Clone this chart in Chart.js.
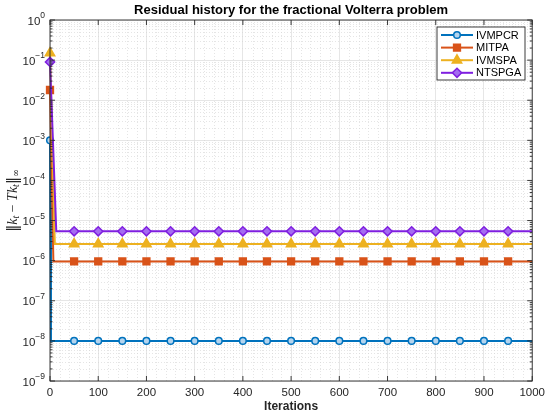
<!DOCTYPE html>
<html>
<head>
<meta charset="utf-8">
<script src="https://cdn.jsdelivr.net/npm/chart.js@4.4.1/dist/chart.umd.min.js"></script>
<style>
  html, body { margin: 0; padding: 0; background: #fff; }
  #wrap { width: 550px; height: 417px; }
</style>
</head>
<body>
<div id="wrap"><canvas id="residualChart"></canvas></div>
<script>
// Residual history for the fractional Volterra problem
const FONT = "'Liberation Sans', Arial, Helvetica, sans-serif";
const AXIS_COLOR = '#262626';

// marker iterations (0, 50, ..., 950) plus the end of the run
const iterations = [0, 50, 100, 150, 200, 250, 300, 350, 400, 450, 500,
                    550, 600, 650, 700, 750, 800, 850, 900, 950, 1000];

const seriesNames = ['IVMPCR', 'MITPA', 'IVMSPA', 'NTSPGA'];
const startValues = [1e-3, 1.8e-2, 1.5e-1, 9e-2];
const dropIters = [2, 7, 10, 13];

// residuals read at iterations 50..1000
const ivmpcrValues = [1e-8, 1e-8, 1e-8, 1e-8, 1e-8, 1e-8, 1e-8, 1e-8, 1e-8, 1e-8,
                      1e-8, 1e-8, 1e-8, 1e-8, 1e-8, 1e-8, 1e-8, 1e-8, 1e-8, 1e-8];
const mitpaValues = [9.6e-7, 9.6e-7, 9.6e-7, 9.6e-7, 9.6e-7, 9.6e-7, 9.6e-7, 9.6e-7, 9.6e-7, 9.6e-7,
                     9.6e-7, 9.6e-7, 9.6e-7, 9.6e-7, 9.6e-7, 9.6e-7, 9.6e-7, 9.6e-7, 9.6e-7, 9.6e-7];
const ivmspaValues = [2.6e-6, 2.6e-6, 2.6e-6, 2.6e-6, 2.6e-6, 2.6e-6, 2.6e-6, 2.6e-6, 2.6e-6, 2.6e-6,
                      2.6e-6, 2.6e-6, 2.6e-6, 2.6e-6, 2.6e-6, 2.6e-6, 2.6e-6, 2.6e-6, 2.6e-6, 2.6e-6];
const ntspgaValues = [5.4e-6, 5.4e-6, 5.4e-6, 5.4e-6, 5.4e-6, 5.4e-6, 5.4e-6, 5.4e-6, 5.4e-6, 5.4e-6,
                      5.4e-6, 5.4e-6, 5.4e-6, 5.4e-6, 5.4e-6, 5.4e-6, 5.4e-6, 5.4e-6, 5.4e-6, 5.4e-6];
const plateauValues = [ivmpcrValues, mitpaValues, ivmspaValues, ntspgaValues];

const yTickExps = [-9, -8, -7, -6, -5, -4, -3, -2, -1, 0];
const lineColors = ['#0072BD', '#D95319', '#EDB120', '#7F1FE0'];
const faceColors = ['#b4d4ee', '#D95319', '#EDB120', '#a46cf0'];
const pointStyles = ['circle', 'rect', 'triangle', 'rectRot'];
const pointSizes = [3.3, 4.8, 5.4, 4.6];

function buildSeries(i) {
    const pts = [{ x: 0, y: startValues[i], m: true },
                 { x: dropIters[i], y: plateauValues[i][0], m: false }];
    iterations.slice(1).forEach((it, j) => {
        pts.push({ x: it, y: plateauValues[i][j], m: it !== 1000 });
    });
    return pts;
}

const datasets = seriesNames.map((name, i) => ({
    label: name,
    data: buildSeries(i),
    borderColor: lineColors[i],
    backgroundColor: faceColors[i],
    borderWidth: 2,
    pointStyle: pointStyles[i],
    pointBackgroundColor: faceColors[i],
    pointBorderColor: lineColors[i],
    pointBorderWidth: 1.5,
    pointRadius: c => (c.raw && c.raw.m ? pointSizes[i] : 0),
    pointHoverRadius: c => (c.raw && c.raw.m ? pointSizes[i] : 0),
    tension: 0,
    clip: false,
    order: 4 - i
}));

// MATLAB-like frame, minor grid, labels and legend
const matlabFrame = {
    id: 'matlabFrame',
    beforeDatasetsDraw(chart) {
        const { ctx, chartArea: a, scales: { x, y } } = chart;
        ctx.save();
        ctx.strokeStyle = '#d4d4d4';
        ctx.lineWidth = 0.6;
        ctx.setLineDash([1, 2]);
        ctx.beginPath();
        for (let v = 20; v < 1000; v += 20) {
            if (v % 100 === 0) continue;
            const px = Math.round(x.getPixelForValue(v)) + 0.5;
            ctx.moveTo(px, a.top); ctx.lineTo(px, a.bottom);
        }
        yTickExps.slice(0, -1).forEach(e => {
            for (let k = 2; k <= 9; k++) {
                const py = Math.round(y.getPixelForValue(k * Math.pow(10, e))) + 0.5;
                ctx.moveTo(a.left, py); ctx.lineTo(a.right, py);
            }
        });
        ctx.stroke();
        ctx.restore();
    },
    afterDatasetsDraw(chart) {
        const { ctx, chartArea: a, scales: { x, y } } = chart;
        ctx.save();
        ctx.strokeStyle = AXIS_COLOR;
        ctx.lineWidth = 0.9;
        ctx.strokeRect(a.left, a.top, a.right - a.left, a.bottom - a.top);

        // inward ticks
        ctx.beginPath();
        for (let v = 0; v <= 1000; v += 100) {
            const px = x.getPixelForValue(v);
            ctx.moveTo(px, a.bottom); ctx.lineTo(px, a.bottom - 5);
            ctx.moveTo(px, a.top); ctx.lineTo(px, a.top + 5);
        }
        yTickExps.forEach(e => {
            const py = y.getPixelForValue(Math.pow(10, e));
            ctx.moveTo(a.left, py); ctx.lineTo(a.left + 5, py);
            ctx.moveTo(a.right, py); ctx.lineTo(a.right - 5, py);
            if (e < 0) {
                for (let k = 2; k <= 9; k++) {
                    const pm = y.getPixelForValue(k * Math.pow(10, e));
                    ctx.moveTo(a.left, pm); ctx.lineTo(a.left + 2.5, pm);
                    ctx.moveTo(a.right, pm); ctx.lineTo(a.right - 2.5, pm);
                }
            }
        });
        ctx.stroke();

        // y tick labels 10^e
        ctx.fillStyle = AXIS_COLOR;
        ctx.textBaseline = 'middle';
        yTickExps.forEach(e => {
            const py = y.getPixelForValue(Math.pow(10, e));
            const expText = e === 0 ? '0' : '\u2212' + Math.abs(e);
            ctx.font = '8.5px ' + FONT;
            const ew = ctx.measureText(expText).width;
            ctx.textAlign = 'left';
            const right = a.left - 5;
            ctx.fillText(expText, right - ew, py - 4);
            ctx.font = '11.5px ' + FONT;
            ctx.textAlign = 'right';
            ctx.fillText('10', right - ew, py + 1.5);
        });

        // title
        ctx.font = 'bold 13px ' + FONT;
        ctx.textAlign = 'center';
        ctx.fillStyle = '#000';
        ctx.fillText('Residual history for the fractional Volterra problem', (a.left + a.right) / 2, 10);

        // x axis title
        ctx.font = 'bold 12px ' + FONT;
        ctx.fillStyle = AXIS_COLOR;
        ctx.fillText('Iterations', (a.left + a.right) / 2, 407);

        // y axis title: ||k_t - T k_t||_inf
        const parts = [
            { t: '\u2016', f: '14px "DejaVu Serif", serif', dy: 0 },
            { t: 'k', f: 'italic 14px "Liberation Serif", serif', dy: 0 },
            { t: 't', f: 'italic 10px "Liberation Serif", serif', dy: 3.5 },
            { t: ' \u2212 ', f: '14px "Liberation Serif", serif', dy: 0 },
            { t: 'Tk', f: 'italic 14px "Liberation Serif", serif', dy: 0 },
            { t: 't', f: 'italic 10px "Liberation Serif", serif', dy: 3.5 },
            { t: '\u2016', f: '14px "DejaVu Serif", serif', dy: 0 },
            { t: '\u221E', f: '9.5px "DejaVu Serif", serif', dy: 4 }
        ];
        let total = 0;
        parts.forEach(p => { ctx.font = p.f; p.w = ctx.measureText(p.t).width; total += p.w; });
        ctx.translate(13, (a.top + a.bottom) / 2);
        ctx.rotate(-Math.PI / 2);
        ctx.textAlign = 'left';
        ctx.textBaseline = 'middle';
        let cx = -total / 2;
        parts.forEach(p => {
            ctx.font = p.f;
            ctx.fillText(p.t, cx, p.dy);
            cx += p.w;
        });
        ctx.restore();

        // legend box
        ctx.save();
        const lx = 437, ly = 27, lw = 88, lh = 53;
        ctx.fillStyle = '#fff';
        ctx.fillRect(lx, ly, lw, lh);
        ctx.strokeStyle = AXIS_COLOR;
        ctx.lineWidth = 0.9;
        ctx.strokeRect(lx, ly, lw, lh);
        seriesNames.forEach((name, i) => {
            const ry = 35 + i * 12.6;
            ctx.strokeStyle = lineColors[i];
            ctx.lineWidth = 2;
            ctx.beginPath();
            ctx.moveTo(441, ry); ctx.lineTo(473, ry);
            ctx.stroke();
            ctx.fillStyle = faceColors[i];
            ctx.lineWidth = 1.5;
            if (Chart.helpers && Chart.helpers.drawPoint) {
                Chart.helpers.drawPoint(ctx, {
                    pointStyle: pointStyles[i], rotation: 0,
                    radius: pointSizes[i], borderWidth: 1.5
                }, 457, ry);
            }
            ctx.fillStyle = '#000';
            ctx.font = '11px ' + FONT;
            ctx.textAlign = 'left';
            ctx.textBaseline = 'middle';
            ctx.fillText(name, 476, ry + 0.5);
        });
        ctx.restore();
    }
};

new Chart(document.getElementById('residualChart'), {
    type: 'line',
    data: { datasets: datasets },
    options: {
        responsive: true,
        maintainAspectRatio: false,
        animation: false,
        layout: { padding: { top: 20, right: 17, left: 0, bottom: 0 } },
        plugins: {
            legend: { display: false },
            title: { display: false },
            tooltip: { enabled: false }
        },
        scales: {
            x: {
                type: 'linear',
                min: 0,
                max: 1000,
                ticks: {
                    stepSize: 100,
                    color: AXIS_COLOR,
                    font: { family: FONT, size: 11.5 },
                    padding: 5,
                    maxRotation: 0,
                    callback: v => String(v)
                },
                grid: { color: '#e0e0e0', lineWidth: 0.8, drawTicks: false },
                border: { display: false },
                afterFit: scale => { scale.height = 36; }
            },
            y: {
                type: 'logarithmic',
                min: 1e-9,
                max: 1,
                afterBuildTicks: scale => {
                    scale.ticks = yTickExps.map(e => ({ value: Math.pow(10, e) }));
                },
                ticks: { display: false },
                grid: { color: '#e0e0e0', lineWidth: 0.8, drawTicks: false },
                border: { display: false },
                afterFit: scale => { scale.width = 50; }
            }
        }
    },
    plugins: [matlabFrame]
});
</script>
</body>
</html>
